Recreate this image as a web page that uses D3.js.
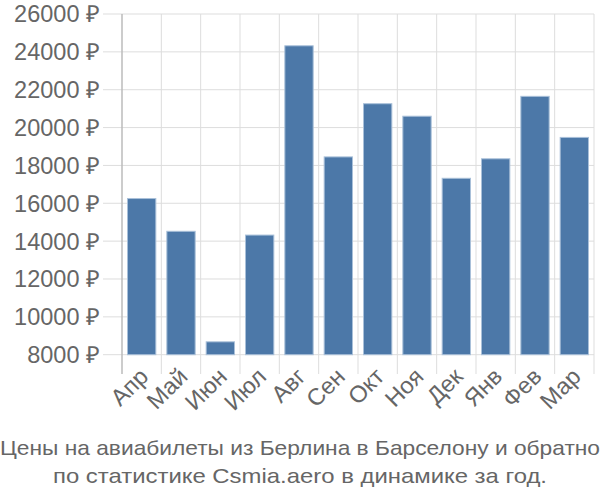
<!DOCTYPE html>
<html><head><meta charset="utf-8">
<script src="https://cdn.jsdelivr.net/npm/d3@7"></script>
<style>body{margin:0;background:#fff}svg{display:block}</style>
</head><body>
<script>
const months = ["Апр","Май","Июн","Июл","Авг","Сен","Окт","Ноя","Дек","Янв","Фев","Мар"];
const prices = [16250,14520,8680,14320,24320,18450,21260,20600,17320,18350,21650,19480];
const yTicks = [8000,10000,12000,14000,16000,18000,20000,22000,24000,26000];
const titleLines = ["Цены на авиабилеты из Берлина в Барселону и обратно","по статистике Csmia.aero в динамике за год."];

(function(){
const W=600,H=500;
const svg=d3.select("body").append("svg").attr("width",W).attr("height",H);
const pL=122,pR=594,pT=14,pB=354.7;
const x=d3.scaleBand().domain(months).range([pL,pR]).paddingInner(0.28).paddingOuter(0.14);
const y=d3.scaleLinear().domain([8000,26000]).range([pB,pT]);
const step=x.step();
const FONT="Liberation Sans, Arial, sans-serif";

svg.append("g").selectAll("line").data(yTicks).join("line")
  .attr("x1",103).attr("x2",pR).attr("y1",d=>y(d)).attr("y2",d=>y(d))
  .attr("stroke","#dddddd").attr("stroke-width",1);
const vx=d3.range(months.length+1).map(i=>pL+i*step);
svg.append("g").selectAll("line").data(vx).join("line")
  .attr("x1",d=>d).attr("x2",d=>d).attr("y1",pT).attr("y2",374)
  .attr("stroke","#dddddd").attr("stroke-width",1);
svg.append("line").attr("x1",pL).attr("x2",pL).attr("y1",pT).attr("y2",374)
  .attr("stroke","#aaaaaa").attr("stroke-width",1);

svg.append("g").selectAll("rect").data(prices).join("rect")
  .attr("x",(d,i)=>x(months[i])).attr("width",x.bandwidth())
  .attr("y",d=>y(d)).attr("height",d=>y(8000)-y(d))
  .attr("fill","#4c78a8").attr("stroke","#a9c0d9").attr("stroke-width",1);

svg.append("g").selectAll("text").data(yTicks).join("text")
  .attr("x",100).attr("y",d=>y(d)).attr("dy","0.36em").attr("text-anchor","end")
  .attr("font-family",FONT).attr("font-size",23.5).attr("fill","#666")
  .text(d=>d+" ₽");

svg.append("g").selectAll("text").data(months).join("text")
  .attr("transform",d=>`translate(${x(d)+x.bandwidth()/2+8},${378}) rotate(-45)`)
  .attr("text-anchor","end")
  .attr("font-family",FONT).attr("font-size",23.5).attr("fill","#666")
  .text(d=>d);

svg.append("g").selectAll("text").data(titleLines).join("text")
  .attr("x",300).attr("y",(d,i)=>455+i*28).attr("text-anchor","middle")
  .attr("font-family",FONT).attr("font-size",21).attr("fill","#666")
  .attr("textLength",(d,i)=>i===0?600:494).attr("lengthAdjust","spacingAndGlyphs")
  .text(d=>d);
})();
</script>
</body></html>
